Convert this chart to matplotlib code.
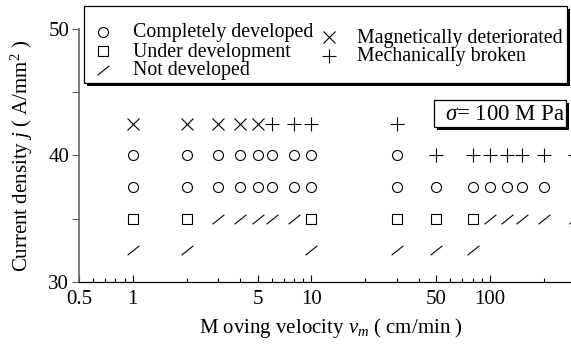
import matplotlib
matplotlib.use("Agg")
import matplotlib.pyplot as plt
from matplotlib.lines import Line2D
from matplotlib.patches import Rectangle
from matplotlib.path import Path
from matplotlib.ticker import FixedLocator, NullFormatter

plt.rcParams['font.family'] = ['Liberation Serif', 'DejaVu Serif']
plt.rcParams['mathtext.fontset'] = 'custom'
plt.rcParams['mathtext.rm'] = 'Liberation Serif'
plt.rcParams['mathtext.it'] = 'Liberation Serif:italic'

W, H = 571, 345

# --- dados (v em cm/min, j em A/mm^2) ---
complete_v = [1, 2, 3, 4, 5, 6, 8, 10, 30,
              1, 2, 3, 4, 5, 6, 8, 10, 30, 50, 80, 100, 125, 150, 200]
complete_j = [40] * 9 + [37.5] * 15

under_v = [1, 2, 10, 30, 50, 80]
under_j = [35] * 6

notdev_v = [3, 4, 5, 6, 8, 100, 125, 150, 200, 300,
            1, 2, 10, 30, 50, 80]
notdev_j = [35] * 10 + [32.5] * 6

magnetic_v = [1, 2, 3, 4, 5]
magnetic_j = [42.5] * 5

broken_v = [6, 8, 10, 30, 50, 80, 100, 125, 150, 200, 300]
broken_j = [42.5] * 4 + [40] * 7

x_major = [0.5, 1, 5, 10, 50, 100]
x_labels = ['0.5', '1', '5', '10', '50', '100']
x_minor = [0.6, 0.7, 0.8, 0.9, 2, 3, 4, 6, 7, 8, 9,
           20, 30, 40, 60, 70, 80, 90, 200, 300, 400]
y_ticks = [30, 35, 40, 45, 50]
y_labels = ['30', '', '40', '', '50']

labels = ['Completely developed', 'Under development', 'Not developed',
          'Magnetically deteriorated', 'Mechanically broken']

# marcador em forma de barra "/"
slash = Path([(-1, -0.8), (1, 0.8)], [Path.MOVETO, Path.LINETO])
styles = [dict(marker='o', markersize=7.2),
          dict(marker='s', markersize=7.8),
          dict(marker=slash, markersize=8.5),
          dict(marker='x', markersize=8.5),
          dict(marker='+', markersize=10)]


def fx(px):
    return px / W


def fy(py):
    return 1 - py / H


fig = plt.figure(figsize=(W / 100, H / 100), dpi=100)
ax = fig.add_axes([fx(79), 63 / H, 536 / W, 253 / H])

kw = dict(linestyle='none', color='black', markerfacecolor='none',
          markeredgewidth=0.8, clip_on=False)
series = [(complete_v, complete_j), (under_v, under_j), (notdev_v, notdev_j),
          (magnetic_v, magnetic_j), (broken_v, broken_j)]
for (v, j), st in zip(series, styles):
    ax.plot(v, j, **st, **kw)

ax.set_xscale('log')
ax.set_xlim(0.5, 500)
ax.set_ylim(30, 50)

ax.xaxis.set_major_locator(FixedLocator(x_major))
ax.xaxis.set_minor_locator(FixedLocator(x_minor))
ax.xaxis.set_minor_formatter(NullFormatter())
ax.set_xticklabels(x_labels)
ax.set_yticks(y_ticks)
ax.set_yticklabels(y_labels)

ax.tick_params(axis='x', which='major', direction='in', length=5, width=0.8,
               labelsize=15, pad=6)
ax.tick_params(axis='x', which='minor', direction='in', length=3, width=0.8)
ax.tick_params(axis='y', direction='out', length=5, width=0.8, labelsize=15,
               color='0.35', pad=2)

for s in ['top', 'right']:
    ax.spines[s].set_visible(False)
ax.spines['bottom'].set_linewidth(0.9)
ax.spines['left'].set_linewidth(1.2)
ax.spines['left'].set_color('0.4')

ax.set_xlabel(r'M oving velocity $v_m$ ( cm/min )', fontsize=15)
ax.set_ylabel(r'Current density $j$ ( A/mm$^2$ )', fontsize=15)
ax.xaxis.set_label_coords((331 - 79) / 536, -0.135)
ax.yaxis.set_label_coords(-0.083, 0.5)


def caixa_sombra(x0, y0, x1, y1):
    # caixa branca com sombra preta deslocada (coordenadas em pixels)
    fig.patches.append(Rectangle((fx(x0 + 3), fy(y1 + 3)), (x1 - x0) / W,
                                 (y1 - y0) / H, transform=fig.transFigure,
                                 fc='black', ec='none'))
    fig.patches.append(Rectangle((fx(x0), fy(y1)), (x1 - x0) / W,
                                 (y1 - y0) / H, transform=fig.transFigure,
                                 fc='white', ec='black', lw=0.9))


# legenda desenhada a mao
caixa_sombra(84, 6, 567, 83)
mark_x = [103, 103, 103, 329, 329]
text_x = [133, 133, 133, 357, 357]
row_y = [32, 51, 70, 37, 56]
for lab, st, mx, tx, ry in zip(labels, styles, mark_x, text_x, row_y):
    fig.add_artist(Line2D([fx(mx)], [fy(ry)], transform=fig.transFigure,
                          linestyle='none', color='black',
                          markerfacecolor='none', markeredgewidth=0.8, **st))
    fig.text(fx(tx), fy(ry + 1), lab, fontsize=14.3, ha='left',
             va='center')

# caixa sigma = 100 MPa
caixa_sombra(434, 100, 566, 127)
fig.text(fx(505), fy(114), r'$\sigma$= 100 M Pa', fontsize=16.5,
         ha='center', va='center')

fig.savefig('out.png', dpi=100)
